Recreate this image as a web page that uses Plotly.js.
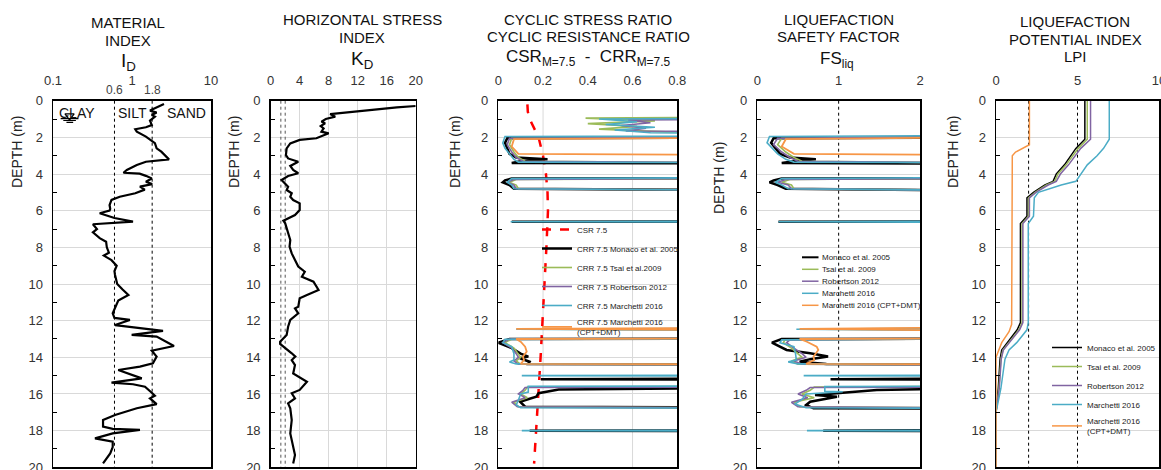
<!DOCTYPE html>
<html><head><meta charset="utf-8">
<script src="https://cdn.plot.ly/plotly-3.0.1.min.js"></script>
<style>html,body{margin:0;padding:0;background:#fff}#chart{width:1161px;height:470px}</style>
</head><body><div id="chart"></div>
<script>
// ---------------- DATA ----------------
const depthTicks = [0,2,4,6,8,10,12,14,16,18,20];
const oddDepths = [1,3,5,7,9,11,13,15,17,19];

// Material index I_D
const idDepth = [0.18,0.42,0.54,0.65,0.78,0.87,1.09,1.33,1.45,1.56,1.69,1.96,2.14,2.32,2.6,2.78,3.2,3.33,3.51,3.78,3.93,3.98,4.1,4.24,4.42,4.55,4.69,4.85,5.05,5.24,5.41,5.69,5.9,6.0,6.14,6.4,6.6,6.74,7.0,7.18,7.5,7.69,8.0,8.29,8.45,8.7,9.0,9.3,9.51,10.0,10.3,10.6,10.9,11.3,11.6,11.85,11.96,12.24,12.56,12.78,12.87,13.38,13.64,13.96,14.33,14.51,14.69,15.15,15.38,15.47,15.6,15.93,16.1,16.24,16.55,16.78,16.96,17.15,17.42,17.78,17.9,17.96,18.15,18.42,18.6,18.9,19.24,19.79];
const idValue = [2.54,1.95,1.69,2.05,1.78,1.95,1.69,1.78,1.50,1.10,1.15,1.50,1.69,1.95,2.05,2.35,2.94,1.50,1.15,0.86,0.78,1.25,1.50,1.78,1.50,1.80,1.26,1.45,1.10,0.70,0.55,0.52,0.53,0.52,0.39,0.60,1.03,0.32,0.36,0.32,0.39,0.47,0.48,0.51,0.44,0.55,0.64,0.60,0.61,0.65,0.76,0.90,0.67,0.61,0.57,0.60,0.94,0.61,2.47,0.99,2.05,3.40,1.78,2.05,1.84,1.26,0.67,1.33,0.55,1.03,1.46,1.78,1.95,1.69,2.05,1.15,0.86,0.61,0.43,0.43,0.57,1.26,0.57,0.34,0.57,0.57,0.53,0.43];
const idTicks = [0.1,1,10];
const idTickText = ['0.1','1','10'];
const idMinorTicks = [0.2,0.3,0.4,0.5,0.6,0.7,0.8,0.9,2,3,4,5,6,7,8,9];
const idBounds = [0.6, 1.8];
const idBoundLabels = ['0.6', '1.8'];
const soilLabels = ['CLAY', 'SILT', 'SAND'];
const soilLabelId = [0.2, 1.01, 4.9];
const wtValue = [0.125,0.21,null,0.135,0.195,null,0.148,0.18];
const wtDepth = [0.98,0.98,null,1.08,1.08,null,1.18,1.18];
const wtMarkX = [0.162];
const wtMarkD = [0.83];

// Horizontal stress index K_D
const kdDepth = [0.29,0.36,0.73,0.87,1.0,1.14,1.23,1.38,1.51,1.69,1.78,2.05,2.14,2.33,2.6,2.96,3.15,3.33,3.56,3.78,3.96,4.11,4.33,4.51,4.69,4.87,5.05,5.24,5.42,5.6,5.96,6.24,6.55,6.69,7.24,7.6,7.96,8.33,8.69,9.05,9.33,9.6,9.87,10.33,10.6,10.78,11.24,11.33,11.6,11.96,12.33,12.78,13.15,13.27,13.78,13.96,14.15,14.42,14.88,15.15,15.33,15.78,15.96,16.24,16.51,16.78,17.42,18.15,18.87,19.33,19.79];
const kdValue = [20,17.4,8.2,8.9,7.6,7.0,7.5,6.9,7.3,7.0,8.0,6.3,4.0,2.7,2.2,2.1,2.4,3.8,2.7,3.1,3.8,2.4,1.5,2.0,2.4,2.2,2.9,2.7,3.1,4.0,4.0,3.35,1.75,2.0,2.4,2.7,2.6,2.9,3.35,3.8,4.7,4.3,5.9,6.6,5.0,4.0,3.8,3.35,3.8,2.7,2.4,2.2,1.3,1.3,2.9,3.4,2.9,3.35,3.1,4.3,5.0,4.0,2.9,3.35,2.4,2.7,2.9,2.7,3.1,3.35,3.1];
const kdTicks = [0,4,8,12,16,20];
const kdMinorTicks = [2,6,10,14,18];
const kdBounds = [1.4, 2];

// CSR / CRR (values of 2 = non-liquefiable, off scale)
const csrDepth = [0.2,0.6,1.0,1.4,2.0,3.0,4.0,5.0,6.0,8.0,10.0,12.0,14.0,16.0,18.0,19.8];
const csrValue = [0.13,0.132,0.14,0.155,0.18,0.2,0.213,0.22,0.222,0.215,0.207,0.198,0.189,0.179,0.169,0.16];
const crrMonacoDepth = [0.8,1.98,2.05,2.3,2.6,2.9,3.1,3.2,3.3,3.4,3.45,4.2,4.25,4.35,4.45,4.6,4.8,4.95,6.58,6.6,6.62,12.96,13.0,13.2,13.5,13.8,13.96,14.05,14.24,14.37,14.4,15.1,15.2,15.24,15.6,15.75,15.96,16.15,16.42,16.69,16.78,17.96,18.0,18.04];
const crrMonacoValue = [2,2,0.04,0.03,0.04,0.05,0.08,0.22,0.1,0.06,2,2,0.06,0.03,0.02,0.05,0.07,2,2,0.06,2,2,0.05,0.0,0.06,0.1,0.134,0.097,0.14,0.134,2,2,0.19,2,2,0.27,0.18,0.17,0.097,0.12,2,2,0.14,2];
const crrTsaiDepth = [0.85,0.95,1.1,1.25,1.4,1.55,1.7,1.8,1.95,2.05,2.4,2.8,3.1,3.3,3.45,4.2,4.3,4.45,4.6,4.8,4.95,12.95,13.0,13.2,13.5,13.8,14.0,14.2,14.38,14.42,15.55,15.62,15.8,16.0,16.2,16.45,16.7,16.8];
const crrTsaiValue = [2,0.39,0.7,0.4,0.62,0.45,0.75,2,2,0.06,0.05,0.07,0.09,0.12,2,2,0.08,0.05,0.08,0.09,2,2,0.06,0.03,0.07,0.09,0.1,0.08,0.1,2,2,0.13,0.12,0.1,0.13,0.07,0.09,2];
const crrRobDepth = [0.95,1.05,1.2,1.35,1.5,1.65,1.75,1.95,2.05,2.4,2.8,3.1,3.3,3.45,4.2,4.3,4.45,4.6,4.8,4.95,12.95,13.0,13.2,13.5,13.8,14.0,14.2,14.38,14.42,15.6,15.65,15.8,16.0,16.2,16.45,16.7,16.8];
const crrRobValue = [2,0.58,0.68,0.55,0.66,0.57,2,2,0.05,0.04,0.06,0.08,0.11,2,2,0.07,0.04,0.07,0.08,2,2,0.05,0.02,0.06,0.08,0.09,0.07,0.09,2,2,0.12,0.11,0.09,0.12,0.06,0.085,2];
const crrMarDepth = [0.9,1.0,1.15,1.3,1.45,1.6,1.75,1.85,1.9,1.95,2.3,2.6,2.9,3.2,3.35,3.4,4.15,4.25,4.45,4.6,4.8,4.95,6.55,6.6,6.65,12.36,12.47,12.6,12.95,13.02,13.2,13.42,13.8,14.15,14.25,14.36,14.4,14.96,15.0,15.05,15.55,15.58,15.9,16.0,16.33,16.6,16.75,16.8,17.96,18.0,18.04];
const crrMarValue = [2,0.45,0.62,0.48,0.7,0.52,0.68,2,2,0.03,0.02,0.03,0.05,0.07,0.09,2,2,0.06,0.04,0.06,0.07,2,2,0.055,2,2,0.08,2,2,0.03,0.02,0.06,0.07,0.07,0.05,0.08,2,2,0.105,2,2,0.134,0.134,0.1,0.09,0.08,0.1,2,2,0.105,2];
const crrCptDepth = [1.95,2.1,2.5,2.9,3.0,12.33,12.45,12.6,12.96,13.0,13.15,13.42,13.69,13.96,14.15,14.36,14.4];
const crrCptValue = [2,0.07,0.06,0.09,2,2,0.08,2,2,0.08,0.1,0.12,0.127,0.11,0.115,0.1,2];
const crrTicks = [0,0.2,0.4,0.6,0.8];
const crrTickText = ['0','0.2','0.4','0.6','0.8'];
const crrGrid = [0.2, 0.6];

// Safety factor FS_liq (values of 4 = off scale)
const fsMonacoDepth = [1.98,2.05,2.3,2.6,2.9,3.1,3.2,3.3,3.4,3.45,4.2,4.25,4.35,4.45,4.6,4.8,4.95,6.58,6.6,6.62,12.96,13.0,13.2,13.6,13.78,13.96,14.1,14.24,14.36,14.4,15.1,15.2,15.24,15.6,15.78,16.05,16.15,16.42,16.6,16.78,16.82,17.96,18.0,18.04];
const fsMonacoValue = [4,0.2,0.17,0.22,0.28,0.4,0.72,0.45,0.3,4,4,0.3,0.2,0.15,0.25,0.35,4,4,0.26,4,4,0.3,0.18,0.36,0.65,0.87,0.65,0.52,0.85,4,4,0.9,4,4,1.47,0.71,0.98,0.65,0.6,0.69,4,4,0.81,4];
const fsTsaiDepth = [1.95,2.05,2.4,2.8,3.1,3.3,3.45,4.2,4.3,4.45,4.6,4.8,4.95,12.95,13.05,13.2,13.5,13.8,14.0,14.2,14.38,14.42,15.55,15.62,15.8,16.0,16.2,16.45,16.7,16.8];
const fsTsaiValue = [4,0.3,0.25,0.35,0.45,0.55,4,4,0.4,0.3,0.42,0.45,4,4,0.34,0.32,0.42,0.5,0.55,0.42,0.5,4,4,0.7,0.65,0.55,0.7,0.45,0.52,4];
const fsRobDepth = [1.95,2.05,2.4,2.8,3.1,3.3,3.45,4.2,4.3,4.45,4.6,4.8,4.95,12.95,13.05,13.2,13.5,13.8,14.0,14.2,14.38,14.42,15.6,15.65,15.8,16.0,16.2,16.45,16.7,16.8];
const fsRobValue = [4,0.25,0.2,0.3,0.4,0.5,4,4,0.35,0.25,0.38,0.42,4,4,0.4,0.36,0.45,0.55,0.6,0.45,0.55,4,4,0.65,0.6,0.5,0.62,0.42,0.5,4];
const fsMarDepth = [1.88,1.95,2.3,2.6,2.9,3.2,3.35,3.4,4.15,4.25,4.45,4.6,4.8,4.95,6.55,6.6,6.65,12.36,12.47,12.6,12.95,13.05,13.2,13.42,13.8,14.15,14.25,14.36,14.4,14.96,15.0,15.05,15.55,15.58,15.6,15.85,15.88,16.0,16.3,16.55,16.75,16.8,17.96,18.0,18.04];
const fsMarValue = [4,0.15,0.12,0.18,0.25,0.35,0.45,4,4,0.3,0.22,0.3,0.38,4,4,0.26,4,4,0.48,4,4,0.3,0.28,0.45,0.47,0.48,0.38,0.5,4,4,0.57,4,4,1.43,0.83,0.83,1.05,0.6,0.55,0.46,0.6,4,4,0.61,4];
const fsCptDepth = [1.95,2.1,2.5,2.9,3.0,12.33,12.45,12.6,12.96,13.0,13.15,13.42,13.6,13.96,14.15,14.36,14.4];
const fsCptValue = [4,0.35,0.3,0.45,4,4,0.52,4,4,0.52,0.61,0.73,0.75,0.69,0.7,0.6,4];
const fsTicks = [0,1,2];
const fsBounds = [1];

// Liquefaction potential index LPI
const lpiDepth = [0,2.1,2.6,3.0,3.5,4.0,4.4,4.6,5.0,5.3,6.3,6.7,12.1,12.5,13.2,13.6,14.1,15.7,17.0,20];
const lpiMonacoValue = [5.45,5.45,4.9,4.6,4.2,3.7,3.5,3.0,2.3,1.9,1.9,1.5,1.5,1.3,0.66,0.35,0.25,0.14,0,0];
const lpiTsaiValue = [5.6,5.6,5.05,4.7,4.3,3.8,3.6,3.1,2.4,2.0,2.0,1.6,1.6,1.4,0.75,0.42,0.3,0.18,0,0];
const lpiRobValue = [5.8,5.8,5.2,4.85,4.45,3.95,3.7,3.2,2.45,2.05,2.05,1.65,1.65,1.45,0.8,0.45,0.32,0.2,0,0];
const lpiMarValue = [6.95,6.95,6.6,6.2,5.6,5.2,4.9,4.0,2.6,2.35,2.3,1.98,1.98,1.9,1.27,0.8,0.55,0.3,0,0];
const lpiCptDepth = [0,2.4,2.8,3.0,12.2,12.6,13.2,13.7,14.0,20];
const lpiCptValue = [2.05,2.05,1.2,1.0,0.96,0.8,0.35,0.14,0,0];
const lpiTicks = [0,5,10];
const lpiMinorTicks = [1,2,3,4,6,7,8,9];
const lpiBounds = [2, 5];

const methodNames = ['Monaco et al. 2005','Tsai et al. 2009','Robertson 2012','Marchetti 2016','Marchetti 2016 (CPT+DMT)'];
const crrNames = ['CSR 7.5','CRR 7.5 Monaco et al. 2005','CRR 7.5 Tsai et al.2009','CRR 7.5 Robertson 2012','CRR 7.5 Marchetti 2016','CRR 7.5 Marchetti 2016<br>(CPT+DMT)'];
const lpiNames = ['Monaco et al. 2005','Tsai et al. 2009','Robertson 2012','Marchetti 2016','Marchetti 2016<br>(CPT+DMT)'];

// ---------------- STYLE / LAYOUT ----------------
const W = 1161, H = 470;
const px = x => x / W;
const py = y => 1 - y / H;
const FONT = 'Liberation Sans, Arial, sans-serif';
const colors = ['#000000','#9bbb59','#8064a2','#4bacc6','#f79646'];
const widths = [2.5,1.6,1.6,1.6,1.8];
const GRID = '#d9d9d9';
const yDom = [py(467.3), py(100.7)];
const xDoms = [[53,211],[270.7,415.7],[498.3,677.3],[757.3,920],[996,1159]];

function ln(x, y, i, color, width, extra) {
  return Object.assign({type:'scatter', mode:'lines', x:x, y:y,
    xaxis:'x'+(i===1?'':i), yaxis:'y'+(i===1?'':i),
    line:{color:color, width:width}, showlegend:false, hoverinfo:'skip'}, extra||{});
}
function vlines(vals, i, color, dash) {
  const xs = [], ys = [];
  vals.forEach(v => { xs.push(v, v, null); ys.push(0, 20, null); });
  return ln(xs, ys, i, color, 1, {line:{color:color, width:1, dash:dash}});
}

const traces = [];
// Panel 1
traces.push(vlines(idBounds, 1, '#000', 'dot'));
traces.push(ln(idValue, idDepth, 1, '#000', 2.2));
traces.push(ln(wtValue, wtDepth, 1, '#000', 1.2));
traces.push(ln(wtMarkX, wtMarkD, 1, '#000', 1, {mode:'markers', marker:{symbol:'triangle-down-open', size:8, color:'#000', line:{width:1.2}}}));
// Panel 2
traces.push(vlines(kdBounds, 2, '#555', 'dot'));
traces.push(ln(kdValue, kdDepth, 2, '#000', 2.2));
// Panel 3
traces.push(ln(csrValue, csrDepth, 3, '#ff0000', 2.5, {line:{color:'#ff0000', width:2.5, dash:'dash'}, name:crrNames[0], showlegend:true, legend:'legend2'}));
const crrX = [crrMonacoValue, crrTsaiValue, crrRobValue, crrMarValue, crrCptValue];
const crrY = [crrMonacoDepth, crrTsaiDepth, crrRobDepth, crrMarDepth, crrCptDepth];
for (let k = 0; k < 5; k++) traces.push(ln(crrX[k], crrY[k], 3, colors[k], widths[k], {name:crrNames[k+1], showlegend:true, legend:'legend2'}));
// Panel 4
traces.push(vlines(fsBounds, 4, '#000', 'dot'));
const fsX = [fsMonacoValue, fsTsaiValue, fsRobValue, fsMarValue, fsCptValue];
const fsY = [fsMonacoDepth, fsTsaiDepth, fsRobDepth, fsMarDepth, fsCptDepth];
for (let k = 0; k < 5; k++) traces.push(ln(fsX[k], fsY[k], 4, colors[k], widths[k], {name:methodNames[k]}));
// Panel 5
traces.push(vlines(lpiBounds, 5, '#000', 'dot'));
const lpiX = [lpiMonacoValue, lpiTsaiValue, lpiRobValue, lpiMarValue, lpiCptValue];
const lpiY = [lpiDepth, lpiDepth, lpiDepth, lpiDepth, lpiCptDepth];
for (let k = 0; k < 5; k++) traces.push(ln(lpiX[k], lpiY[k], 5, colors[k], 1.5, {name:lpiNames[k], showlegend:true, legend:'legend3'}));

const layout = {
  width: W, height: H, margin:{l:0,r:0,t:0,b:0},
  paper_bgcolor:'#fff', plot_bgcolor:'#fff',
  font:{family:FONT, size:13, color:'#222'},
  showlegend:true,
  legend2:{x:px(537), y:py(215), xanchor:'left', yanchor:'top', bgcolor:'rgba(0,0,0,0)',
    font:{family:FONT, size:8, color:'#222'}, tracegroupgap:0, itemwidth:30},
  legend3:{x:px(1047), y:py(333), xanchor:'left', yanchor:'top', bgcolor:'rgba(0,0,0,0)',
    font:{family:FONT, size:8, color:'#222'}, tracegroupgap:0, itemwidth:30},
  annotations:[], shapes:[]
};

const xCfg = [
  {type:'log', range:[-1,1], tickvals:idTicks, ticktext:idTickText, showgrid:false},
  {range:[0,20], tickvals:kdTicks, showgrid:true, gridcolor:GRID},
  {range:[0,0.8], tickvals:crrTicks, ticktext:crrTickText, showgrid:false},
  {range:[0,2], tickvals:fsTicks, showgrid:false},
  {range:[0,10], tickvals:lpiTicks, showgrid:false}
];
const bottomTicks = [idMinorTicks, kdMinorTicks, null, null, lpiMinorTicks];
for (let i = 1; i <= 5; i++) {
  const s = i===1 ? '' : String(i);
  layout['xaxis'+s] = Object.assign({
    domain:[px(xDoms[i-1][0]), px(xDoms[i-1][1])], anchor:'y'+s, side:'top',
    showline:true, mirror:true, linecolor:'#000', linewidth:1.5, zeroline:false,
    ticks:'', ticklabelstandoff:9, ticklabeloverflow:'allow',
    tickfont:{family:FONT, size:13, color:'#333'}, fixedrange:true
  }, xCfg[i-1]);
  layout['yaxis'+s] = {
    domain:yDom, anchor:'x'+s, range:[20,0], tickvals:depthTicks,
    showgrid:true, gridcolor:GRID, gridwidth:1, showline:true, mirror:true,
    linecolor:'#000', linewidth:1.5, zeroline:false, ticks:'', ticklabelstandoff:6,
    ticklabeloverflow:'allow',
    tickfont:{family:FONT, size:13, color:'#333'},
    minor:{tickvals:oddDepths, ticks:'inside', ticklen:4, tickcolor:'#000', tickwidth:1, showgrid:false},
    fixedrange:true
  };
  if (bottomTicks[i-1]) {
    const n = 5 + i;
    layout['xaxis'+n] = {
      overlaying:'x'+s, anchor:'y'+s, side:'bottom', type: i===1 ? 'log':'linear',
      range: xCfg[i-1].range, tickvals:bottomTicks[i-1], ticks:'inside', ticklen:5,
      tickcolor:'#000', showticklabels:false, showgrid:false, showline:false, zeroline:false, fixedrange:true
    };
  }
}

// CRR gridlines at 0.2 and 0.6
crrGrid.forEach(v => layout.shapes.push({type:'line', xref:'x3', yref:'y3 domain', x0:v, x1:v, y0:0, y1:1,
  line:{color:GRID, width:1}, layer:'below'}));

function ann(text, x, y, size, extra) {
  layout.annotations.push(Object.assign({text:text, x:px(x), y:py(y), xref:'paper', yref:'paper',
    showarrow:false, xanchor:'center', yanchor:'middle', font:{family:FONT, size:size, color:'#111'}}, extra||{}));
}
// Titles
ann('MATERIAL', 128, 22.7, 15); ann('INDEX', 128, 40.7, 15); ann('I<sub>D</sub>', 128, 61.5, 19);
ann('HORIZONTAL STRESS', 362, 20, 15); ann('INDEX', 362, 37.7, 15); ann('K<sub>D</sub>', 362, 60, 19);
ann('CYCLIC STRESS RATIO', 588, 19.3, 15); ann('CYCLIC RESISTANCE RATIO', 588, 36.7, 15);
ann('CSR<sub>M=7.5</sub>  -  CRR<sub>M=7.5</sub>', 588, 58.5, 17);
ann('LIQUEFACTION', 838.5, 19.3, 15); ann('SAFETY FACTOR', 838.5, 36.7, 15); ann('FS<sub>liq</sub>', 837, 60, 17);
ann('LIQUEFACTION', 1075, 21.7, 15); ann('POTENTIAL INDEX', 1075, 39.3, 15); ann('LPI', 1075, 56.7, 15);
// Depth axis titles
const depthTitleX = [17, 234, 455, 719, 953];
const depthTitleY = [152, 152, 152, 178, 152];
depthTitleX.forEach((x, k) => ann('DEPTH (m)', x, depthTitleY[k], 14, {textangle:-90, font:{family:FONT, size:14, color:'#222'}}));
// I_D boundary labels (placed on the log axis, in paper y) and soil labels
idBoundLabels.forEach((t, k) => layout.annotations.push({text:t, x:Math.log10(idBounds[k]), y:py(90), xref:'x', yref:'paper',
  showarrow:false, yanchor:'middle', font:{family:'Liberation Sans Narrow, Liberation Sans, Arial', size:12, color:'#444'}}));
soilLabels.forEach((t, k) => layout.annotations.push({text:t, x:Math.log10(soilLabelId[k]), y:0.65, xref:'x', yref:'y',
  showarrow:false, font:{family:FONT, size:14, color:'#111'}}));

// Manual legend for FS panel
const fsLegY = [257.3, 269.3, 281.2, 293.3, 305.3];
methodNames.forEach((t, k) => {
  layout.shapes.push({type:'line', xref:'paper', yref:'paper', x0:px(802), x1:px(818.5), y0:py(fsLegY[k]), y1:py(fsLegY[k]),
    line:{color:colors[k], width:k===0?2:1.5}});
  ann(t, 819.5, fsLegY[k], 8, {xanchor:'left', font:{family:FONT, size:8, color:'#222'}});
});

Plotly.newPlot('chart', traces, layout, {displayModeBar:false, staticPlot:true});
</script></body></html>
